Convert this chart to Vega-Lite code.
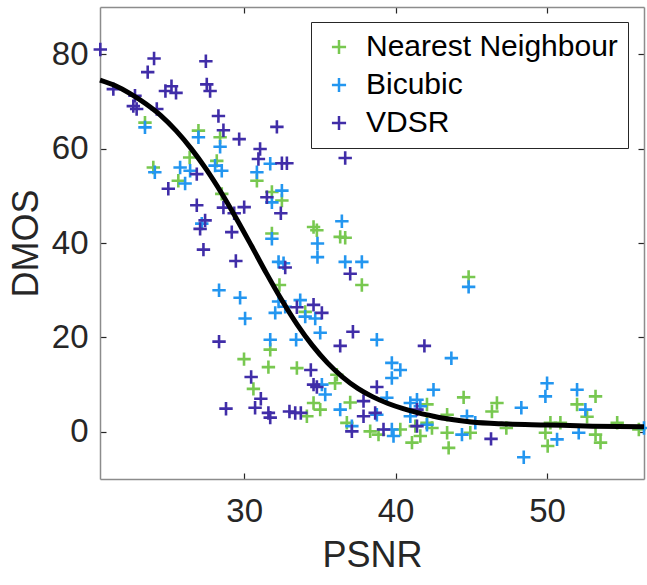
{
 "$schema": "https://vega.github.io/schema/vega-lite/v6.json",
 "width": 544, "height": 472,
 "autosize": {"type": "none"},
 "padding": {"left": 100, "top": 7, "right": 3, "bottom": 106},
 "background": "white",
 "config": {"view": {"stroke": null}, "font": "Liberation Sans"},
 "datasets": {
  "pts": [
   {"method":"Nearest Neighbour","psnr":23.45,"dmos":65.5},{"method":"Nearest Neighbour","psnr":26.98,"dmos":63.8},{"method":"Nearest Neighbour","psnr":28.41,"dmos":62.4},{"method":"Nearest Neighbour","psnr":28.19,"dmos":57.4},{"method":"Nearest Neighbour","psnr":26.4,"dmos":58.1},{"method":"Nearest Neighbour","psnr":30.84,"dmos":53.2},{"method":"Nearest Neighbour","psnr":24.0,"dmos":56.0},{"method":"Nearest Neighbour","psnr":25.65,"dmos":53.2},{"method":"Nearest Neighbour","psnr":28.52,"dmos":50.4},{"method":"Nearest Neighbour","psnr":31.83,"dmos":50.8},{"method":"Nearest Neighbour","psnr":32.49,"dmos":49.0},{"method":"Nearest Neighbour","psnr":31.83,"dmos":42.0},{"method":"Nearest Neighbour","psnr":32.33,"dmos":31.1},{"method":"Nearest Neighbour","psnr":31.72,"dmos":17.4},{"method":"Nearest Neighbour","psnr":29.99,"dmos":15.4},{"method":"Nearest Neighbour","psnr":31.6,"dmos":13.7},{"method":"Nearest Neighbour","psnr":30.61,"dmos":9.1},{"method":"Nearest Neighbour","psnr":34.58,"dmos":43.4},{"method":"Nearest Neighbour","psnr":34.8,"dmos":42.7},{"method":"Nearest Neighbour","psnr":36.34,"dmos":41.3},{"method":"Nearest Neighbour","psnr":36.67,"dmos":41.1},{"method":"Nearest Neighbour","psnr":44.82,"dmos":32.8},{"method":"Nearest Neighbour","psnr":37.77,"dmos":31.1},{"method":"Nearest Neighbour","psnr":34.03,"dmos":25.4},{"method":"Nearest Neighbour","psnr":33.48,"dmos":13.5},{"method":"Nearest Neighbour","psnr":36.12,"dmos":12.1},{"method":"Nearest Neighbour","psnr":36.0,"dmos":10.3},{"method":"Nearest Neighbour","psnr":44.49,"dmos":7.3},{"method":"Nearest Neighbour","psnr":37.0,"dmos":6.2},{"method":"Nearest Neighbour","psnr":34.58,"dmos":6.1},{"method":"Nearest Neighbour","psnr":35.02,"dmos":4.7},{"method":"Nearest Neighbour","psnr":34.14,"dmos":3.3},{"method":"Nearest Neighbour","psnr":42.07,"dmos":5.8},{"method":"Nearest Neighbour","psnr":36.78,"dmos":1.9},{"method":"Nearest Neighbour","psnr":38.32,"dmos":0.1},{"method":"Nearest Neighbour","psnr":38.87,"dmos":-0.6},{"method":"Nearest Neighbour","psnr":40.31,"dmos":0.5},{"method":"Nearest Neighbour","psnr":41.3,"dmos":1.2},{"method":"Nearest Neighbour","psnr":41.63,"dmos":-0.9},{"method":"Nearest Neighbour","psnr":41.08,"dmos":-2.3},{"method":"Nearest Neighbour","psnr":42.07,"dmos":1.9},{"method":"Nearest Neighbour","psnr":42.4,"dmos":0.8},{"method":"Nearest Neighbour","psnr":43.4,"dmos":3.6},{"method":"Nearest Neighbour","psnr":43.4,"dmos":-0.2},{"method":"Nearest Neighbour","psnr":43.5,"dmos":-3.4},{"method":"Nearest Neighbour","psnr":44.93,"dmos":-0.2},{"method":"Nearest Neighbour","psnr":46.69,"dmos":6.1},{"method":"Nearest Neighbour","psnr":46.36,"dmos":4.3},{"method":"Nearest Neighbour","psnr":47.31,"dmos":0.8},{"method":"Nearest Neighbour","psnr":50.22,"dmos":1.9},{"method":"Nearest Neighbour","psnr":50.88,"dmos":1.9},{"method":"Nearest Neighbour","psnr":49.89,"dmos":-0.2},{"method":"Nearest Neighbour","psnr":50.04,"dmos":-3.0},{"method":"Nearest Neighbour","psnr":51.98,"dmos":5.8},{"method":"Nearest Neighbour","psnr":53.2,"dmos":7.5},{"method":"Nearest Neighbour","psnr":52.64,"dmos":3.2},{"method":"Nearest Neighbour","psnr":53.2,"dmos":-0.6},{"method":"Nearest Neighbour","psnr":53.53,"dmos":-2.3},{"method":"Nearest Neighbour","psnr":54.63,"dmos":1.9},{"method":"Nearest Neighbour","psnr":56.06,"dmos":0.5},
   {"method":"Bicubic","psnr":23.45,"dmos":64.5},{"method":"Bicubic","psnr":26.98,"dmos":62.4},{"method":"Bicubic","psnr":28.41,"dmos":60.4},{"method":"Bicubic","psnr":31.72,"dmos":56.8},{"method":"Bicubic","psnr":30.84,"dmos":55.0},{"method":"Bicubic","psnr":24.1,"dmos":55.0},{"method":"Bicubic","psnr":25.77,"dmos":56.0},{"method":"Bicubic","psnr":26.43,"dmos":55.3},{"method":"Bicubic","psnr":28.08,"dmos":56.4},{"method":"Bicubic","psnr":28.52,"dmos":55.3},{"method":"Bicubic","psnr":26.1,"dmos":52.6},{"method":"Bicubic","psnr":32.49,"dmos":51.1},{"method":"Bicubic","psnr":31.83,"dmos":48.6},{"method":"Bicubic","psnr":27.2,"dmos":44.1},{"method":"Bicubic","psnr":31.83,"dmos":40.9},{"method":"Bicubic","psnr":32.27,"dmos":36.0},{"method":"Bicubic","psnr":28.34,"dmos":30.0},{"method":"Bicubic","psnr":29.73,"dmos":28.4},{"method":"Bicubic","psnr":32.27,"dmos":27.6},{"method":"Bicubic","psnr":32.05,"dmos":25.2},{"method":"Bicubic","psnr":30.06,"dmos":24.0},{"method":"Bicubic","psnr":31.72,"dmos":19.5},{"method":"Bicubic","psnr":36.45,"dmos":44.6},{"method":"Bicubic","psnr":34.84,"dmos":39.9},{"method":"Bicubic","psnr":34.84,"dmos":37.0},{"method":"Bicubic","psnr":36.67,"dmos":36.0},{"method":"Bicubic","psnr":37.77,"dmos":36.0},{"method":"Bicubic","psnr":32.6,"dmos":35.7},{"method":"Bicubic","psnr":44.82,"dmos":30.7},{"method":"Bicubic","psnr":33.7,"dmos":27.9},{"method":"Bicubic","psnr":32.71,"dmos":26.5},{"method":"Bicubic","psnr":34.03,"dmos":24.4},{"method":"Bicubic","psnr":34.69,"dmos":24.0},{"method":"Bicubic","psnr":35.02,"dmos":21.0},{"method":"Bicubic","psnr":33.43,"dmos":19.5},{"method":"Bicubic","psnr":38.76,"dmos":19.5},{"method":"Bicubic","psnr":43.68,"dmos":15.6},{"method":"Bicubic","psnr":39.75,"dmos":14.6},{"method":"Bicubic","psnr":40.31,"dmos":13.1},{"method":"Bicubic","psnr":39.75,"dmos":11.4},{"method":"Bicubic","psnr":35.13,"dmos":10.0},{"method":"Bicubic","psnr":35.35,"dmos":7.9},{"method":"Bicubic","psnr":42.5,"dmos":8.9},{"method":"Bicubic","psnr":39.42,"dmos":7.2},{"method":"Bicubic","psnr":36.34,"dmos":4.7},{"method":"Bicubic","psnr":40.97,"dmos":6.1},{"method":"Bicubic","psnr":41.41,"dmos":6.8},{"method":"Bicubic","psnr":41.63,"dmos":5.4},{"method":"Bicubic","psnr":38.76,"dmos":3.6},{"method":"Bicubic","psnr":37.11,"dmos":1.2},{"method":"Bicubic","psnr":39.75,"dmos":0.5},{"method":"Bicubic","psnr":39.86,"dmos":-0.9},{"method":"Bicubic","psnr":44.38,"dmos":-0.6},{"method":"Bicubic","psnr":44.71,"dmos":3.3},{"method":"Bicubic","psnr":45.26,"dmos":1.9},{"method":"Bicubic","psnr":40.97,"dmos":3.3},{"method":"Bicubic","psnr":42.07,"dmos":1.5},{"method":"Bicubic","psnr":48.3,"dmos":5.1},{"method":"Bicubic","psnr":48.46,"dmos":-5.4},{"method":"Bicubic","psnr":50.0,"dmos":10.3},{"method":"Bicubic","psnr":49.89,"dmos":7.5},{"method":"Bicubic","psnr":50.66,"dmos":-1.6},{"method":"Bicubic","psnr":51.98,"dmos":8.9},{"method":"Bicubic","psnr":52.53,"dmos":4.7},{"method":"Bicubic","psnr":52.09,"dmos":-0.2},{"method":"Bicubic","psnr":56.4,"dmos":0.8},
   {"method":"VDSR","psnr":20.5,"dmos":81.0},{"method":"VDSR","psnr":24.05,"dmos":79.1},{"method":"VDSR","psnr":27.47,"dmos":78.5},{"method":"VDSR","psnr":23.63,"dmos":76.2},{"method":"VDSR","psnr":21.36,"dmos":72.6},{"method":"VDSR","psnr":24.8,"dmos":72.2},{"method":"VDSR","psnr":25.2,"dmos":73.2},{"method":"VDSR","psnr":25.5,"dmos":71.8},{"method":"VDSR","psnr":27.53,"dmos":73.6},{"method":"VDSR","psnr":27.75,"dmos":72.2},{"method":"VDSR","psnr":22.79,"dmos":71.2},{"method":"VDSR","psnr":22.68,"dmos":69.0},{"method":"VDSR","psnr":22.9,"dmos":68.4},{"method":"VDSR","psnr":24.23,"dmos":68.4},{"method":"VDSR","psnr":28.3,"dmos":66.9},{"method":"VDSR","psnr":28.63,"dmos":63.9},{"method":"VDSR","psnr":29.67,"dmos":62.0},{"method":"VDSR","psnr":31.05,"dmos":59.9},{"method":"VDSR","psnr":30.94,"dmos":57.8},{"method":"VDSR","psnr":32.16,"dmos":64.6},{"method":"VDSR","psnr":32.49,"dmos":56.9},{"method":"VDSR","psnr":32.82,"dmos":56.9},{"method":"VDSR","psnr":26.87,"dmos":54.6},{"method":"VDSR","psnr":24.99,"dmos":51.5},{"method":"VDSR","psnr":31.5,"dmos":49.7},{"method":"VDSR","psnr":32.42,"dmos":46.3},{"method":"VDSR","psnr":26.87,"dmos":48.0},{"method":"VDSR","psnr":28.63,"dmos":47.5},{"method":"VDSR","psnr":29.34,"dmos":46.3},{"method":"VDSR","psnr":30.0,"dmos":47.6},{"method":"VDSR","psnr":27.42,"dmos":44.8},{"method":"VDSR","psnr":27.09,"dmos":43.0},{"method":"VDSR","psnr":29.18,"dmos":42.3},{"method":"VDSR","psnr":27.31,"dmos":38.6},{"method":"VDSR","psnr":29.45,"dmos":36.2},{"method":"VDSR","psnr":32.71,"dmos":34.8},{"method":"VDSR","psnr":28.34,"dmos":19.1},{"method":"VDSR","psnr":30.46,"dmos":11.6},{"method":"VDSR","psnr":31.1,"dmos":7.0},{"method":"VDSR","psnr":28.8,"dmos":4.9},{"method":"VDSR","psnr":30.72,"dmos":5.1},{"method":"VDSR","psnr":31.6,"dmos":4.0},{"method":"VDSR","psnr":31.72,"dmos":3.0},{"method":"VDSR","psnr":32.99,"dmos":4.3},{"method":"VDSR","psnr":33.37,"dmos":4.0},{"method":"VDSR","psnr":33.74,"dmos":4.0},{"method":"VDSR","psnr":36.67,"dmos":58.0},{"method":"VDSR","psnr":37.0,"dmos":33.5},{"method":"VDSR","psnr":34.58,"dmos":26.9},{"method":"VDSR","psnr":33.48,"dmos":26.4},{"method":"VDSR","psnr":35.13,"dmos":25.2},{"method":"VDSR","psnr":37.18,"dmos":21.2},{"method":"VDSR","psnr":36.34,"dmos":18.2},{"method":"VDSR","psnr":41.9,"dmos":18.2},{"method":"VDSR","psnr":34.4,"dmos":13.1},{"method":"VDSR","psnr":34.58,"dmos":10.0},{"method":"VDSR","psnr":34.8,"dmos":9.5},{"method":"VDSR","psnr":38.76,"dmos":9.5},{"method":"VDSR","psnr":37.88,"dmos":6.5},{"method":"VDSR","psnr":37.88,"dmos":3.3},{"method":"VDSR","psnr":38.65,"dmos":4.0},{"method":"VDSR","psnr":37.11,"dmos":0.1},{"method":"VDSR","psnr":39.2,"dmos":0.5},{"method":"VDSR","psnr":41.41,"dmos":1.2},{"method":"VDSR","psnr":46.3,"dmos":-1.5},{"method":"VDSR","psnr":41.41,"dmos":4.7}
  ],
  "curve": [
   {"psnr":20.48,"dmos":74.5},{"psnr":21.5,"dmos":73.3},{"psnr":22.5,"dmos":71.6},{"psnr":23.5,"dmos":69.5},{"psnr":24.5,"dmos":67.0},{"psnr":25.5,"dmos":63.8},{"psnr":26.5,"dmos":60.0},{"psnr":27.5,"dmos":55.6},{"psnr":28.5,"dmos":50.6},{"psnr":29.5,"dmos":45.1},{"psnr":30.5,"dmos":39.3},{"psnr":31.5,"dmos":33.4},{"psnr":32.5,"dmos":27.8},{"psnr":33.5,"dmos":22.7},{"psnr":34.5,"dmos":18.3},{"psnr":35.5,"dmos":14.6},{"psnr":36.5,"dmos":11.6},{"psnr":37.5,"dmos":9.2},{"psnr":38.5,"dmos":7.4},{"psnr":39.5,"dmos":6.0},{"psnr":40.5,"dmos":4.9},{"psnr":41.5,"dmos":4.0},{"psnr":42.5,"dmos":3.3},{"psnr":43.5,"dmos":2.7},{"psnr":45.0,"dmos":2.1},{"psnr":47.0,"dmos":1.7},{"psnr":50.0,"dmos":1.45},{"psnr":53.0,"dmos":1.2},{"psnr":56.4,"dmos":1.05}
  ]
 },
 "layer": [
  {
   "data": {"name": "pts"},
   "mark": {"type": "point", "shape": "M-1,0H1M0,-1V1", "filled": false, "strokeWidth": 2.6, "size": 180, "opacity": 1},
   "encoding": {
    "x": {"field": "psnr", "type": "quantitative", "scale": {"domain": [20.48, 56.4], "nice": false, "zero": false},
      "axis": {"orient": "bottom", "values": [30, 40, 50], "title": "PSNR", "titleFontSize": 36, "titleFontWeight": "normal", "titleColor": "#262626", "titlePadding": 10, "labelFontSize": 33, "labelColor": "#262626", "labelPadding": 22, "tickSize": -6, "tickColor": "#262626", "tickWidth": 1.2, "domainColor": "#8c8c8c", "domainWidth": 1.5, "grid": false}},
    "y": {"field": "dmos", "type": "quantitative", "scale": {"domain": [-10, 90], "nice": false, "zero": false},
      "axis": {"orient": "left", "values": [0, 20, 40, 60, 80], "title": "DMOS", "titleFontSize": 36, "titleFontWeight": "normal", "titleColor": "#262626", "titlePadding": 6, "labelFontSize": 33, "labelColor": "#262626", "labelPadding": 18, "tickSize": -6, "tickColor": "#262626", "tickWidth": 1.2, "domainColor": "#8c8c8c", "domainWidth": 1.5, "grid": false}},
    "color": {"field": "method", "type": "nominal",
      "scale": {"domain": ["Nearest Neighbour", "Bicubic", "VDSR"], "range": ["#78C850", "#2396F0", "#402DA8"]},
      "legend": {"title": null, "orient": "none", "legendX": 211, "legendY": 15, "padding": 10, "symbolOffset": 3, "strokeColor": "#262626", "fillColor": "white", "labelFontSize": 30, "labelFont": "Liberation Sans", "labelColor": "black", "symbolType": "M-1,0H1M0,-1V1", "symbolSize": 200, "symbolStrokeWidth": 2.5, "labelOffset": 12, "rowPadding": 8, "labelLimit": 400}}
   }
  },
  {
   "data": {"name": "curve"},
   "mark": {"type": "line", "color": "black", "strokeWidth": 5, "interpolate": "monotone"},
   "encoding": {
    "x": {"field": "psnr", "type": "quantitative", "scale": {"domain": [20.48, 56.4], "nice": false, "zero": false},
      "axis": {"orient": "top", "values": [30, 40, 50], "title": null, "labels": false, "tickSize": -6, "tickColor": "#262626", "tickWidth": 1.2, "domainColor": "#8c8c8c", "domainWidth": 1.5, "grid": false}},
    "y": {"field": "dmos", "type": "quantitative", "scale": {"domain": [-10, 90], "nice": false, "zero": false},
      "axis": {"orient": "right", "values": [0, 20, 40, 60, 80], "title": null, "labels": false, "tickSize": -6, "tickColor": "#262626", "tickWidth": 1.2, "domainColor": "#8c8c8c", "domainWidth": 1.5, "grid": false}}
   }
  }
 ],
 "resolve": {"axis": {"x": "independent", "y": "independent"}}
}
